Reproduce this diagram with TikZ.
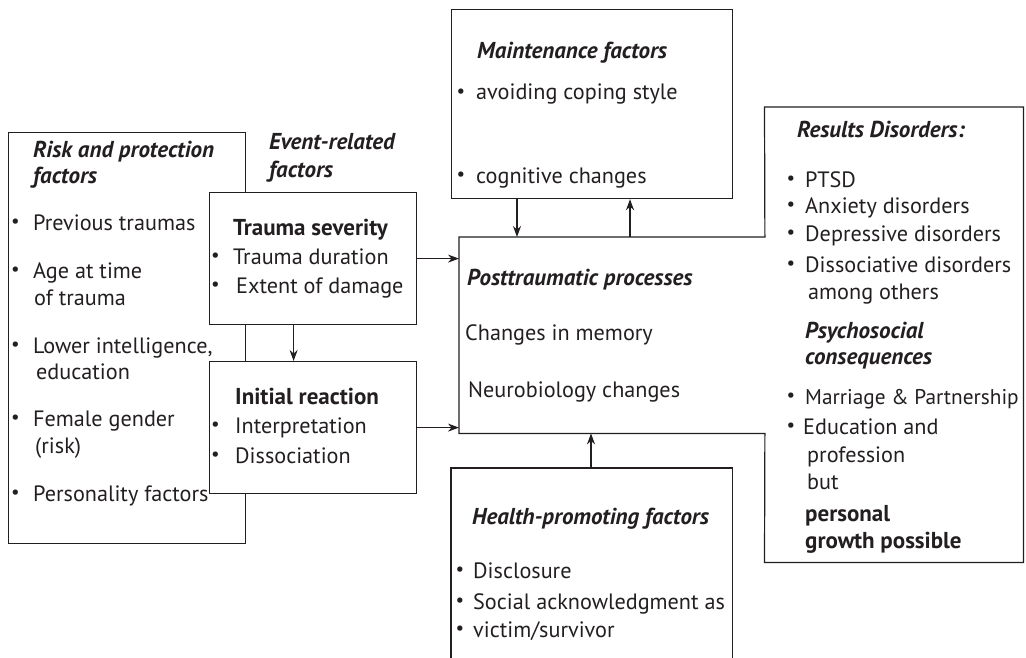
\documentclass[tikz,border=0pt]{standalone}
\usepackage{fontspec}
\setmainfont{PT Sans}
\usetikzlibrary{arrows.meta}
\definecolor{ink}{HTML}{231F20}

% one bulleted line: name, bullet x, text x, baseline y, text
\newcommand\bitem[5]{%
  \node[txt] (#1) at (#3,#4) {#5};
  \node[dot] (#1-dot) at (#2,{#4-6.5}) {•};}

\tikzset{
  box/.style={draw=ink, line width=1.2pt, fill=white, inner sep=0pt, anchor=north west},
  area/.style={inner sep=0pt, anchor=north west},
  edge/.style={draw=ink, line width=1.2pt},
  arr/.style={draw=ink, line width=1.2pt, -{Stealth[length=11pt,width=8pt,inset=3.5pt]}},
  txt/.style={anchor=base west, inner sep=0pt, text=ink, font=\fontsize{22.2}{26}\selectfont},
  head/.style={txt, font=\fontsize{23}{27}\selectfont\bfseries\itshape},
  bold/.style={txt, font=\fontsize{23}{27}\selectfont\bfseries},
  dot/.style={anchor=center, inner sep=0pt, text=ink, font=\fontsize{19}{19}\selectfont},
}

\begin{document}
\begin{tikzpicture}[x=1pt, y=-1pt]
\useasboundingbox (0,0) rectangle (1026,658);

% ---- boxes ----
\node[box, minimum width=237pt, minimum height=411pt] (risk) at (8,132) {};
\node[box, minimum width=207pt, minimum height=132pt] (sev) at (209,192) {};
\node[box, minimum width=207pt, minimum height=132pt] (init) at (209,361) {};
\node[box, minimum width=281pt, minimum height=189pt] (maint) at (451,9) {};
\node[area, minimum width=305.5pt, minimum height=196pt] (post) at (459,237) {};
\node[area, minimum width=258.5pt, minimum height=455pt] (res) at (764.5,107) {};
\node[area, minimum width=281pt, minimum height=200pt] (health) at (451,468) {};

% posttraumatic processes and results share one outline
\draw[edge] (post.north west) -- (post.north east) -- (res.north west)
  -- (res.north east) -- (res.south east) -- (res.south west)
  -- (post.south east) -- (post.south west) -- cycle;
% health-promoting box runs off the lower edge
\draw[edge] (health.south west) -- (health.north west) -- (health.north east) -- (health.south east);

% ---- connectors ----
\draw[arr] (sev.east) -- (sev.east -| post.west);
\draw[arr] (init.east) -- (init.east -| post.west);
\draw[arr] ([xshift=-19.5pt]sev.south) -- ([xshift=-19.5pt]init.north);
\draw[arr] ([xshift=66pt]maint.south west) -- ([xshift=66pt]maint.south west |- post.north);
\draw[arr] ([xshift=179pt]maint.south west |- post.north) -- ([xshift=179pt]maint.south west);
\draw[arr] ([xshift=140pt]health.north west) -- ([xshift=140pt]health.north west |- post.south);

% ---- risk and protection factors ----
\node[head] (riskT1) at (33,158) {Risk and protection};
\node[head] (riskT2) at (33,184) {factors};
\bitem{rk1}{15.5}{33}{230}{Previous traumas}
\bitem{rk2}{15.5}{33}{278}{Age at time}
\node[txt] (rk2b) at (34,305) {of trauma};
\bitem{rk3}{15.5}{33}{353}{Lower intelligence,}
\node[txt] (rk3b) at (36,379) {education};
\bitem{rk4}{15.5}{33}{426}{Female gender}
\node[txt] (rk4b) at (35,453) {(risk)};
\node[dot] (rk5-dot) at (15.5,494.5) {•};
\node[txt, fill=white, inner sep=1pt] (rk5) at (32,501) {Personality factors};

% ---- event-related factors ----
\node[head] (ev1) at (269,150) {Event-related};
\node[head] (ev2) at (269,178) {factors};

\node[bold] (sevT) at (233,236) {Trauma severity};
\bitem{sv1}{215.5}{233}{264}{Trauma duration}
\bitem{sv2}{215.5}{236}{293}{Extent of damage}

\node[bold] (inT) at (235,404) {Initial reaction};
\bitem{in1}{215.5}{235}{433}{Interpretation}
\bitem{in2}{215.5}{235}{463}{Dissociation}

% ---- maintenance factors ----
\node[head] (mT) at (477,59) {Maintenance factors};
\bitem{m1}{461}{476}{100}{avoiding coping style}
\bitem{m2}{461}{476}{183}{cognitive changes}

% ---- posttraumatic processes ----
\node[head] (pT) at (467,285) {Posttraumatic processes};
\node[txt] (p1) at (465,340) {Changes in memory};
\node[txt] (p2) at (468,397) {Neurobiology changes};

% ---- health-promoting factors ----
\node[head] (hT) at (472,524) {Health-promoting factors};
\bitem{h1}{460}{473}{578}{Disclosure}
\bitem{h2}{460}{473}{609}{Social acknowledgment as}
\bitem{h3}{460}{473}{637}{victim/survivor}

% ---- results ----
\node[head] (rsT) at (797,138) {Results Disorders:};
\bitem{rs1}{791}{805}{187}{PTSD}
\bitem{rs2}{791}{805}{213}{Anxiety disorders}
\bitem{rs3}{791}{805}{241}{Depressive disorders}
\bitem{rs4}{791}{805}{272}{Dissociative disorders}
\node[txt] (rs4b) at (808,299) {among others};
\node[head] (rsP1) at (805,338) {Psychosocial};
\node[head] (rsP2) at (805,364) {consequences};
\node[dot] (rs5-dot) at (791,397.5) {•};
\node[txt, font=\fontsize{21.3}{26}\selectfont] (rs5) at (805,404) {Marriage \& Partnership};
\bitem{rs6}{791}{803}{434}{Education and}
\node[txt] (rs6b) at (807,462) {profession};
\node[txt] (rs6c) at (807,489) {but};
\node[bold] (rsG1) at (805,521) {personal};
\node[bold] (rsG2) at (805,548) {growth possible};
\end{tikzpicture}
\end{document}
